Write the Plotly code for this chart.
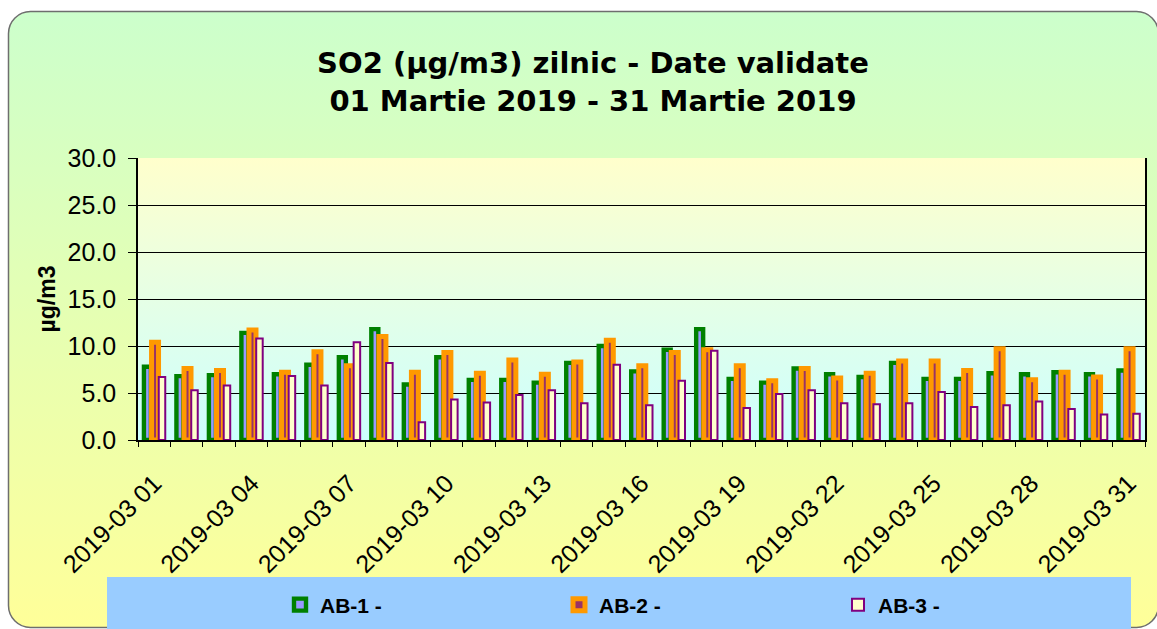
import base64
import plotly.graph_objects as go

# SO2 daily averages, March 2019 - three monitoring stations
dates = ["2019-03 %02d" % d for d in range(1, 32)]

ab1 = [7.8, 6.8, 6.9, 11.4, 7.0, 8.0, 8.8, 11.8, 5.9, 8.8,
       6.4, 6.4, 6.1, 8.2, 10.0, 7.3, 9.6, 11.8, 6.5, 6.1,
       7.6, 7.0, 6.7, 8.2, 6.5, 6.5, 7.1, 7.0, 7.2, 7.0, 7.4]
ab2 = [10.4, 7.6, 7.4, 11.7, 7.2, 9.4, 7.9, 11.0, 7.2, 9.3,
       7.1, 8.5, 7.0, 8.3, 10.6, 7.9, 9.3, 9.6, 7.9, 6.3,
       7.6, 6.6, 7.1, 8.4, 8.4, 7.4, 9.7, 6.4, 7.2, 6.7, 9.7]
ab3 = [6.7, 5.3, 5.8, 10.8, 6.8, 5.8, 10.4, 8.2, 1.9, 4.3,
       4.0, 4.8, 5.3, 3.9, 8.0, 3.7, 6.3, 9.5, 3.4, 4.9,
       5.3, 3.9, 3.8, 3.9, 5.1, 3.5, 3.7, 4.1, 3.3, 2.7, 2.8]

days = list(range(1, len(dates) + 1))

# figure geometry (pixels)
W, H = 1157, 629
L, R, T, B = 138, 1145, 158, 440
pw, ph = R - L, B - T

# gradient backgrounds as an inline svg image
svg = f'''<svg xmlns="http://www.w3.org/2000/svg" width="{W}" height="{H}">
<defs>
<linearGradient id="g1" x1="0" y1="0" x2="0" y2="1">
<stop offset="0" stop-color="#ccffcc"/><stop offset="1" stop-color="#ffff99"/></linearGradient>
<linearGradient id="g2" x1="0" y1="0" x2="0" y2="1">
<stop offset="0" stop-color="#ffffcc"/><stop offset="1" stop-color="#ccffff"/></linearGradient>
</defs>
<rect x="8.5" y="11.5" width="1150" height="616" rx="22" ry="22" fill="url(#g1)" stroke="#6e6e6e" stroke-width="1.5"/>
<rect x="{L}" y="{T}" width="{pw}" height="{ph}" fill="url(#g2)"/>
<rect x="107" y="577" width="1024" height="60" fill="#99ccff"/>
</svg>'''
svg_uri = "data:image/svg+xml;base64," + base64.b64encode(svg.encode()).decode()

fig = go.Figure()

fig.add_trace(go.Bar(x=days, y=ab1, name="AB-1 -", offset=-0.317, width=0.215,
                     marker=dict(color="#9999ff", line=dict(color="#008000", width=4.4))))
fig.add_trace(go.Bar(x=days, y=ab2, name="AB-2 -", offset=-0.083, width=0.215,
                     marker=dict(color="#993366", line=dict(color="#ff9900", width=5))))
fig.add_trace(go.Bar(x=days, y=ab3, name="AB-3 -", offset=0.139, width=0.2,
                     marker=dict(color="#ffffcc", line=dict(color="#800080", width=2))))

fig.add_layout_image(dict(source=svg_uri, xref="paper", yref="paper",
                          x=-L / pw, y=1 + T / ph, sizex=W / pw, sizey=H / ph,
                          xanchor="left", yanchor="top", sizing="stretch", layer="below"))

fig.update_layout(
    width=W, height=H,
    margin=dict(l=L, r=W - R, t=T, b=H - B, pad=0),
    paper_bgcolor="white",
    plot_bgcolor="rgba(0,0,0,0)",
    barmode="overlay",
    title=dict(text="SO2 (µg/m3) zilnic - Date validate<br>01 Martie 2019 - 31 Martie 2019",
               x=593 / W, xref="container", xanchor="center",
               y=1 - 73 / H, yref="container", yanchor="middle",
               font=dict(family="DejaVu Sans", size=29, color="black", weight="bold")),
    font=dict(family="Liberation Sans, Arial", color="black"),
    showlegend=True,
    legend=dict(orientation="h", x=280 / W, xref="container", xanchor="left",
                y=1 - 605 / H, yref="container", yanchor="middle",
                bgcolor="rgba(0,0,0,0)", entrywidth=234, entrywidthmode="pixels",
                font=dict(size=21, family="Liberation Sans, Arial", weight="bold")),
)

fig.update_xaxes(
    range=[0.5, len(dates) + 0.5], automargin=False,
    tickvals=days[::3], ticktext=dates[::3], tickangle=-45,
    tickfont=dict(size=25),
    ticks="", ticklabelstandoff=17,
    minor=dict(tickvals=[d + 0.5 for d in range(0, len(dates) + 1)],
               ticks="outside", ticklen=5, tickcolor="black", tickwidth=1),
    showgrid=False, showline=True, linecolor="black", linewidth=1.5,
    zeroline=False,
)
fig.update_yaxes(
    range=[0, 30], dtick=5, tickformat=".1f", automargin=False,
    tickfont=dict(size=25),
    ticks="outside", ticklen=8, tickcolor="black", ticklabelstandoff=7,
    showgrid=True, gridcolor="black", gridwidth=1,
    showline=True, linecolor="black", linewidth=1.5, mirror=True,
    zeroline=False,
    title=dict(text="µg/m3", standoff=6,
               font=dict(size=23, family="Liberation Sans, Arial", weight="bold")),
)

# drop the default body margin so the figure sits at the page origin
fig.write_html("out.html", config={"displayModeBar": False},
               post_script="document.body.style.margin='0';document.body.style.overflow='hidden';")
